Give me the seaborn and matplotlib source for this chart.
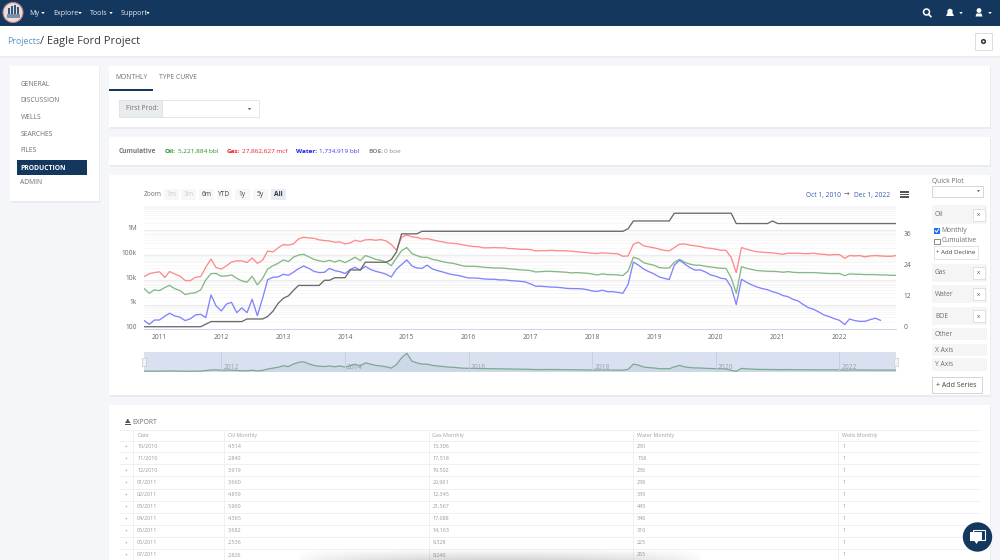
import numpy as np
import pandas as pd
import matplotlib
matplotlib.use('Agg')
import matplotlib.pyplot as plt
import matplotlib.dates as mdates
from matplotlib.patches import Rectangle, Circle, Polygon
from matplotlib.ticker import FixedLocator, NullFormatter
from matplotlib.transforms import ScaledTranslation
import seaborn as sns

sns.set_theme(style='white')
plt.rcParams['font.family'] = ['Open Sans', 'DejaVu Sans']

W, H = 1000, 560
NAVY = '#14375e'
GREY = '#6f6f6f'
GREEN, RED, BLUE = '#84b984', '#ff8a8a', '#8282ff'

oil = [4514, 2840, 3919,
       3660, 4859, 5960, 4365, 3682, 2536, 2826, 3000, 3900, 9900, 17700, 18000,
       13900, 14300, 15700, 11500, 9000, 8000, 13900, 6200, 11500, 27400, 37000, 46000,
       63000, 54000, 81000, 100000, 107000, 84000, 67000, 58000, 54000, 61000, 52000, 61000,
       49000, 63000, 81000, 60000, 95000, 81000, 67000, 61000, 52000, 37000, 76000, 150000,
       200000, 113000, 95000, 81000, 81000, 67000, 61000, 54000, 49000, 46000, 41000, 36000,
       35000, 35000, 34000, 32000, 31000, 30000, 30000, 29000, 27500, 26700, 25000, 24500,
       23500, 20700, 21400, 22100, 22100, 21400, 20700, 20100, 18900, 19500, 18900, 18300,
       17000, 15700, 17300, 16200, 16200, 15700, 14700, 22800, 81000, 70000, 49000, 43000,
       38600, 31000, 30000, 30000, 51000, 67000, 51000, 43000, 39000, 38600, 35000, 33000,
       31000, 29000, 29000, 12000, 2850, 34000, 29000, 26000, 23500, 22700, 22100, 22100,
       21400, 20100, 21400, 20100, 19500, 19500, 19500, 19500, 18900, 18300, 17800, 17800,
       17800, 14700, 17200, 16700, 16700, 16200, 16200, 16200, 15700, 15700, 15200, 15200]
gas = [13306, 17518, 19502,
       20961, 12345, 21567, 17088, 14163, 9328, 9240, 12600, 13500, 32000, 69000, 31000,
       27000, 37000, 52000, 58000, 58000, 50000, 76000, 46000, 62000, 146000, 133000, 194000,
       264000, 250000, 280000, 445000, 520000, 490000, 475000, 410000, 385000, 370000, 330000, 340000,
       280000, 310000, 395000, 350000, 410000, 420000, 395000, 420000, 370000, 270000, 155000, 520000,
       650000, 540000, 520000, 445000, 460000, 410000, 370000, 340000, 305000, 300000, 280000, 255000,
       235000, 220000, 215000, 195000, 195000, 200000, 195000, 195000, 180000, 180000, 170000, 170000,
       166000, 146000, 150000, 150000, 155000, 150000, 150000, 146000, 143000, 135000, 130000, 125000,
       118000, 115000, 122000, 118000, 115000, 112000, 89000, 92000, 273000, 328000, 235000, 215000,
       195000, 172000, 155000, 146000, 200000, 273000, 280000, 250000, 235000, 220000, 195000, 187000,
       172000, 155000, 155000, 80000, 19500, 200000, 172000, 150000, 135000, 130000, 125000, 122000,
       114000, 107000, 118000, 118000, 118000, 114000, 114000, 118000, 110000, 107000, 100000, 104000,
       104000, 74000, 95000, 92000, 95000, 84000, 92000, 95000, 92000, 89000, 89000, 95000]
water = [230, 158, 236,
         238, 339, 445, 346, 310, 225, 265, 380, 405, 295, 2440, 880,
         550, 1050, 1230, 470, 730, 470, 1630, 355, 1800, 10100, 12600, 13000,
         16600, 15200, 20000, 28000, 36000, 29000, 22000, 19500, 20000, 29000, 23500, 21400,
         17800, 26000, 32000, 24500, 35000, 26000, 22000, 19500, 16700, 13000, 27000, 41000,
         63000, 36000, 30000, 29000, 39000, 27400, 23500, 20700, 17800, 16000, 15000, 13400,
         11800, 11800, 11500, 10800, 10500, 10500, 9900, 9900, 9300, 9000, 8700, 8200,
         6800, 5500, 5500, 5300, 5100, 5000, 4800, 4500, 4400, 4400, 4300, 4000,
         3500, 3400, 3800, 3300, 3300, 3100, 2850, 6600, 52000, 39000, 27000, 21400,
         17200, 13000, 11500, 10200, 39000, 61000, 43600, 31000, 24500, 25000, 20700, 15700,
         13900, 11500, 10800, 5100, 1000, 10500, 7900, 6200, 5100, 4400, 4000, 3300,
         2900, 2300, 2100, 1630, 1400, 1000, 750, 640, 500, 380, 325, 270,
         230, 155, 260, 225, 210, 210, 245, 280, 230, np.nan, np.nan, np.nan]
wells = ([1] * 12 + [2, 3, 3] +
         [3, 3, 3, 3, 3, 4, 4, 4, 4, 5, 7, 10] +
         [12, 13, 15, 17, 17, 17, 17, 17, 19, 19, 20, 20] +
         [20, 23, 23, 23, 26, 26, 26, 26, 26, 27, 30, 37] +
         [37, 37, 37] + [38] * 9 + [38] * 24 +
         [38] * 7 + [39, 42, 42, 42, 42] +
         [42, 42, 42, 42] + [45] * 8 +
         [45, 45, 45, 45, 41, 41, 41, 41, 41, 41, 41, 42] +
         [41] * 24)

df = pd.DataFrame({'date': pd.date_range('2010-10-01', periods=len(oil), freq='MS'),
                   'Oil': oil, 'Gas': gas, 'Water': water, 'Wells': wells})
long_df = df.melt(id_vars='date', value_vars=['Gas', 'Oil', 'Water'], var_name='series', value_name='value')
dmin, dmax = df['date'].min(), df['date'].max()

fig = plt.figure(figsize=(W / 100, H / 100), dpi=100, facecolor='#f4f6f9')


def axes_px(x0, y0, x1, y1, **kw):
    return fig.add_axes([x0 / W, 1 - y1 / H, (x1 - x0) / W, (y1 - y0) / H], **kw)


# page furniture, in pixel coordinates
ui = axes_px(0, 0, W, H)
ui.set_xlim(0, W); ui.set_ylim(H, 0); ui.axis('off')


def box(x0, y0, x1, y1, fc='white', ec='none', lw=0.6, z=1):
    ui.add_patch(Rectangle((x0, y0), x1 - x0, y1 - y0, fc=fc, ec=ec, lw=lw, zorder=z))


def txt(x, y, s, size=5, color=GREY, weight='normal', ha='left'):
    return ui.text(x, y + 0.5, s, fontsize=size, color=color, fontweight=weight, ha=ha, va='center', zorder=5)


def caret(x, y, color='white', s=2):
    ui.add_patch(Polygon([(x - s, y - s * 0.6), (x + s, y - s * 0.6), (x, y + s * 0.7)], fc=color, ec='none', zorder=5))


def card(x0, y0, x1, y1):
    box(x0 + 0.5, y0 + 1, x1 + 0.5, y1 + 1.5, fc='#e9ebef', z=0.5)
    box(x0, y0, x1, y1)


# top bar
box(0, 0, W, 25.5, fc=NAVY, z=2)
ui.add_patch(Circle((13, 12.5), 10, fc='#e4dfe2', ec='#c97a7a', lw=0.8, zorder=3))
for x, h in [(8, 6), (11, 8.5), (14, 9.5), (17, 7)]:
    box(x, 14 - h, x + 2, 14, fc='#3c5678', z=4)
box(6.5, 14, 19.5, 17.5, fc='#7d8ea5', z=4)
for x, s, cx in [(29, 'My', 43), (53, 'Explore', 80), (90, 'Tools', 111), (121, 'Support', 148)]:
    txt(x, 12.6, s, size=5.1, color='#e8ecf2')
    caret(cx, 13, s=1.7)
ui.add_patch(Circle((926.5, 12), 3, fc='none', ec='white', lw=1.1, zorder=5))
ui.plot([928.5, 931], [14.2, 16.7], color='white', lw=1.2, zorder=5)
ui.add_patch(Polygon([(946, 16), (947.5, 13), (947.5, 10), (950, 8.5), (952.5, 10), (952.5, 13), (954, 16)], fc='white', ec='none', zorder=5))
caret(961, 13, s=1.7)
ui.add_patch(Circle((979, 10.5), 2.4, fc='white', ec='none', zorder=5))
ui.add_patch(Polygon([(975.5, 16.5), (976.5, 13.5), (981.5, 13.5), (982.5, 16.5)], fc='white', ec='none', zorder=5))
caret(990, 13, s=1.7)

# title strip
box(0, 25.5, W, 56)
box(0, 56, W, 57.5, fc='#eceef2')
txt(7.5, 41.5, 'Projects', size=6.3, color='#5b93c7')
txt(40.5, 41, '/ Eagle Ford Project', size=7.9, color='#33383d')
box(975, 33, 992, 50, ec='#d5d7da')
ui.add_patch(Circle((983.5, 41.5), 1.8, fc='white', ec='#333333', lw=1.1, zorder=5))

# side menu
card(10, 66, 99, 201)
for y, s in [(83.5, 'GENERAL'), (100.2, 'DISCUSSION'), (117, 'WELLS'), (133.7, 'SEARCHES'), (150.5, 'FILES'), (182.3, 'ADMIN')]:
    txt(20.5, y, s, size=4.9)
box(17, 160, 87, 175, fc=NAVY, z=2)
txt(20.5, 167.5, 'PRODUCTION', size=4.9, color='white', weight='bold')

# tabs and filter
card(109, 66, 990, 127)
txt(115.5, 77.3, 'MONTHLY', size=4.9)
txt(159, 77.3, 'TYPE CURVE', size=4.9)
box(109, 89, 153, 90.5, fc=NAVY, z=2)
box(119, 100, 258.5, 117, ec='#e0e2e5')
box(119, 100, 162, 117, fc='#e9ecef', ec='#e0e2e5', z=2)
txt(125.5, 108.5, 'First Prod:', size=4.9)
caret(249.5, 109, color='#666666', s=1.7)

# cumulative strip
card(109, 137, 990, 165)
txt(119, 151, 'Cumulative', size=4.7, weight='bold', color='#777777')
txt(165, 151, 'Oil:', size=4.6, weight='bold', color='#1e8f1e')
txt(177.5, 151, '5,221,884 bbl', size=4.6, color='#1e8f1e')
txt(227, 151, 'Gas:', size=4.6, weight='bold', color='#f01c1c')
txt(241.5, 151, '27,862,627 mcf', size=4.6, color='#f01c1c')
txt(296, 151, 'Water:', size=4.6, weight='bold', color='#1c1ce8')
txt(319, 151, '1,734,919 bbl', size=4.6, color='#3c3cf0')
txt(368, 151, 'BOE:', size=4.6, weight='bold', color='#888888')
txt(384.5, 151, '0 boe', size=4.6, color='#888888')

# chart card and range selector
card(109, 175, 990, 395)
txt(144, 194.5, 'Zoom', size=4.8)
for x, s, fc, c, w in [(171, '1m', '#f7f7f7', '#cccccc', 'normal'), (188.5, '3m', '#f7f7f7', '#cccccc', 'normal'),
                       (206.5, '6m', '#f7f7f7', '#444444', 'normal'), (224.5, 'YTD', '#f7f7f7', '#444444', 'normal'),
                       (242.5, '1y', '#f7f7f7', '#444444', 'normal'), (260.5, '5y', '#f7f7f7', '#444444', 'normal'),
                       (278.5, 'All', '#e6ebf5', '#333333', 'bold')]:
    box(x - 7.5, 189, x + 7.5, 200, fc=fc)
    txt(x, 194.5, s, size=4.8, color=c, weight=w, ha='center')
txt(806, 194.5, 'Oct 1, 2010', size=4.8, color='#335cad')
txt(846.5, 194.5, '→', size=4.8, color='#555555', ha='center')
txt(854, 194.5, 'Dec 1, 2022', size=4.8, color='#335cad')
for y in [192, 194.5, 197]:
    box(900, y - 0.7, 908.5, y + 0.7, fc='#555555')

# series panel
txt(932, 181.5, 'Quick Plot', size=4.8)
box(932, 185.5, 982.5, 196.5, ec='#cfcfcf')
caret(978.5, 191, color='#555555', s=1.5)
for y0, y1, s in [(205, 224, 'Oil'), (263.5, 281.5, 'Gas'), (285, 303, 'Water'), (306.5, 324.5, 'BOE')]:
    box(931.5, y0, 987, y1, fc='#f5f5f5')
    txt(935, (y0 + y1) / 2, s, size=4.8)
    box(973, (y0 + y1) / 2 - 6, 984.5, (y0 + y1) / 2 + 6, ec='#dddddd', z=2)
    txt(978.7, (y0 + y1) / 2, 'x', size=4.4, color='#555555', ha='center')
for y0, y1, s in [(328, 340, 'Other'), (343.5, 355.5, 'X Axis'), (358, 370.5, 'Y Axis')]:
    box(931.5, y0, 987, y1, fc='#f5f5f5')
    txt(935, (y0 + y1) / 2, s, size=4.8)
box(934, 228, 939.5, 233.5, fc='#1a73e8', z=2)
ui.plot([935, 936.5, 938.7], [230.5, 232.3, 229], color='white', lw=0.7, zorder=5)
box(934, 238.5, 939.5, 244, ec='#777777', z=2)
txt(941.5, 230, 'Monthly', size=4.8)
txt(941.5, 240.5, 'Cumulative', size=4.8)
box(933.5, 246, 977.5, 258.5, ec='#dddddd', z=2)
txt(955.5, 252.5, '+ Add Decline', size=4.4, color='#444444', ha='center')
box(932, 377, 981.5, 392.5, ec='#cccccc', z=2)
txt(956.7, 385, '+ Add Series', size=5, color='#444444', ha='center')

# export table, first rows come from the series above
card(109, 405, 990, 560)
txt(132, 422, 'EXPORT', size=4.9)
ui.add_patch(Polygon([(125, 423), (127, 420), (127, 419), (128.5, 419), (128.5, 420), (130.5, 423)], fc='#555555', ec='none', zorder=5))
box(124.5, 424, 130.5, 425.2, fc='#555555', z=5)
col_x = [119, 133.3, 224.3, 429, 633.3, 838.3, 980]
row_y = [435.4 + 11 + 12.04 * i for i in range(10)]
ui.hlines([429.5, 440.5] + [y + 6 for y in row_y], 119, 980, color='#f0f0f0', lw=0.7, zorder=2)
ui.vlines(col_x[1:6], 429.5, 560, color='#f0f0f0', lw=0.7, zorder=2)
for x, s in zip([137.5, 227.5, 432, 637, 842], ['Date', 'Oil Monthly', 'Gas Monthly', 'Water Monthly', 'Wells Monthly']):
    txt(x, 434.8, s, size=3.9, color='#a0a0a0')
for i, y in enumerate(row_y):
    ui.add_patch(Polygon([(125.8, y - 1.1), (125.8, y + 1.1), (127.6, y)], fc='#b0b0b0', ec='none', zorder=5))
    txt(137, y - 0.5, df['date'][i].strftime('%m/%Y'), size=3.9, color='#9a9a9a')
    txt(228, y - 0.5, f'{oil[i]:,}', size=3.9, color='#9a9a9a')
    txt(432.5, y - 0.5, f'{gas[i]:,}', size=3.9, color='#9a9a9a')
    txt(637, y - 0.5, f'{water[i]:,}', size=3.9, color='#9a9a9a')
    txt(842.5, y - 0.5, '1', size=3.9, color='#9a9a9a')

# soft shadow at the bottom edge and chat bubble
shade = np.outer(np.linspace(0, 1, 12), np.sin(np.linspace(0, np.pi, 200)) ** 0.6)
rgba = np.zeros((12, 200, 4))
rgba[..., 3] = shade * 0.16
ui.imshow(rgba, extent=(295, 705, 560, 548), aspect='auto', zorder=6)
ui.set_xlim(0, W); ui.set_ylim(H, 0)
ui.add_patch(Circle((977.5, 537), 14.7, fc=NAVY, ec='none', zorder=7))
box(972.5, 530, 984.5, 539.5, fc=NAVY, ec='white', lw=0.8, z=8)
box(970, 532, 982, 541, fc='white', z=9)
ui.add_patch(Polygon([(974.5, 541), (978.5, 541), (976.5, 544), ], fc='white', ec='none', zorder=9))

# main chart
ax = axes_px(144, 205.5, 896, 329.3, facecolor='none')
ax.set_yscale('log')
sns.lineplot(data=long_df, x='date', y='value', hue='series', hue_order=['Gas', 'Oil', 'Water'],
             palette={'Gas': RED, 'Oil': GREEN, 'Water': BLUE}, lw=0.95, legend=False, ax=ax, zorder=3)
ax.set_xlim(dmin, dmax)
ax.set_ylim(100, 1e7)
ax.set_xlabel(''); ax.set_ylabel('')
for s in ['top', 'left', 'right']:
    ax.spines[s].set_visible(False)
ax.spines['bottom'].set_color('#ccd6eb'); ax.spines['bottom'].set_linewidth(0.7)

ax.yaxis.set_major_locator(FixedLocator([100, 1e3, 1e4, 1e5, 1e6]))
ax.set_yticklabels(['100', '1k', '10k', '100k', '1M'])
minor = [m * 10.0 ** e for e in range(2, 7) for m in range(2, 10)] + [1e7]
ax.yaxis.set_minor_locator(FixedLocator(minor))
ax.yaxis.set_minor_formatter(NullFormatter())
ax.grid(True, which='major', axis='y', color='#ececec', lw=0.8)
ax.grid(True, which='minor', axis='y', color='#f6f6f6', lw=0.6)
ax.set_axisbelow(True)
ax.tick_params(axis='y', which='both', length=0, pad=5, labelsize=4.8, labelcolor='#666666')

ax.xaxis.set_major_locator(mdates.YearLocator())
ax.xaxis.set_major_formatter(mdates.DateFormatter('%Y'))
ax.tick_params(axis='x', length=2, width=0.6, color='#ccd6eb', pad=1.2, labelsize=4.8, labelcolor='#666666')

ax2 = ax.twinx()
ax2.patch.set_visible(False)
sns.lineplot(data=df, x='date', y='Wells', color='#6a6a6a', lw=0.95, ax=ax2, zorder=4)
ax2.set_xlim(dmin, dmax)
ax2.set_ylim(0, 48)
ax2.set_yticks([0, 12, 24, 36])
ax2.set_ylabel(''); ax2.set_xlabel('')
ax2.grid(False)
for s in ax2.spines.values():
    s.set_visible(False)
ax2.tick_params(axis='y', length=0, pad=5.5, labelsize=4.8, labelcolor='#666666')

# labels sit a little above their gridlines
up = ScaledTranslation(0, 2.6 / 100, fig.dpi_scale_trans)
for a in (ax, ax2):
    for t in a.get_yticklabels():
        t.set_transform(t.get_transform() + up)

# navigator under the chart
nav = axes_px(144, 352.3, 896, 371.5, facecolor='#d9e0ef')
nav.fill_between(df['date'], df['Oil'], color='#c3d2de', alpha=0.5, lw=0)
sns.lineplot(data=df, x='date', y='Oil', color='#7aa892', lw=0.9, ax=nav)
nav.set_xlim(dmin, dmax)
nav.set_ylim(0, 211000)
nav.set_xlabel(''); nav.set_ylabel(''); nav.set_yticks([]); nav.set_xticks([])
for s in nav.spines.values():
    s.set_visible(False)
for year in range(2012, 2024, 2):
    d = pd.Timestamp(year=year, month=1, day=1)
    if d < dmax:
        nav.axvline(d, color='#c4cde0', lw=0.6)
        nav.annotate(str(year), (d, 0), xytext=(1.5, 1.5), textcoords='offset points',
                     fontsize=4.8, color='#9aa0ab')
nav_top = axes_px(142, 358, 146, 366, facecolor='#f2f2f2')
nav_end = axes_px(894, 358, 898, 366, facecolor='#f2f2f2')
for a in (nav_top, nav_end):
    a.set_xticks([]); a.set_yticks([])
    for s in a.spines.values():
        s.set_color('#cccccc'); s.set_linewidth(0.5)

fig.savefig('out.png', dpi=100)
plt.close()
